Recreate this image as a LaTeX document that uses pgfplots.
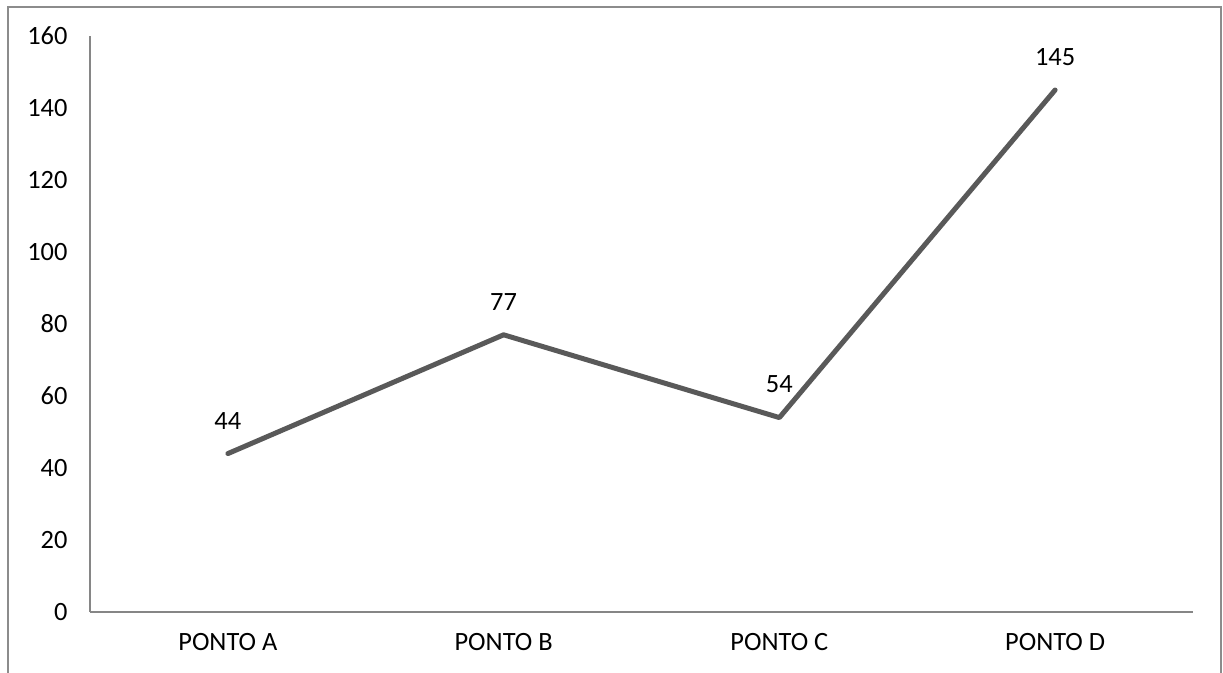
\documentclass[border=0pt]{standalone}
\usepackage{pgfplots}
\pgfplotsset{compat=1.18}
\usepackage{fontspec}
\setmainfont{Carlito}
\definecolor{lineg}{RGB}{89,89,89}
\definecolor{axg}{RGB}{134,134,134}
\definecolor{frameg}{RGB}{140,140,140}
\begin{document}
\begin{tikzpicture}
\useasboundingbox (0,0) rectangle (1223bp,673bp);
\draw[frameg, line width=2bp] (8bp,0) -- (8bp,666bp) -- (1221bp,666bp) -- (1221bp,0);
\begin{axis}[
  at={(90bp,61bp)}, anchor=south west,
  scale only axis, width=1103bp, height=576bp,
  xmin=-0.5, xmax=3.5, ymin=0, ymax=160,
  xtick={0,1,2,3}, xticklabels={PONTO A,PONTO B,PONTO C,PONTO D},
  ytick={0,20,40,60,80,100,120,140,160},
  axis x line*=bottom, axis y line*=left,
  axis line style={axg, line width=1.5bp},
  major tick length=0pt,
  tick label style={font=\fontsize{26.5}{32}\selectfont},
  /pgf/number format/assume math mode=true,
  xticklabel style={yshift=-18bp},
  yticklabel style={xshift=-19bp},
  clip=false,
  nodes near coords,
  every node near coord/.style={anchor=center, yshift=33bp, font=\fontsize{26.5}{32}\selectfont, text=black},
]
\addplot[lineg, line width=5bp, line cap=round, line join=round, mark=none] coordinates {(0,44) (1,77) (2,54) (3,145)};
\end{axis}
\end{tikzpicture}
\end{document}
